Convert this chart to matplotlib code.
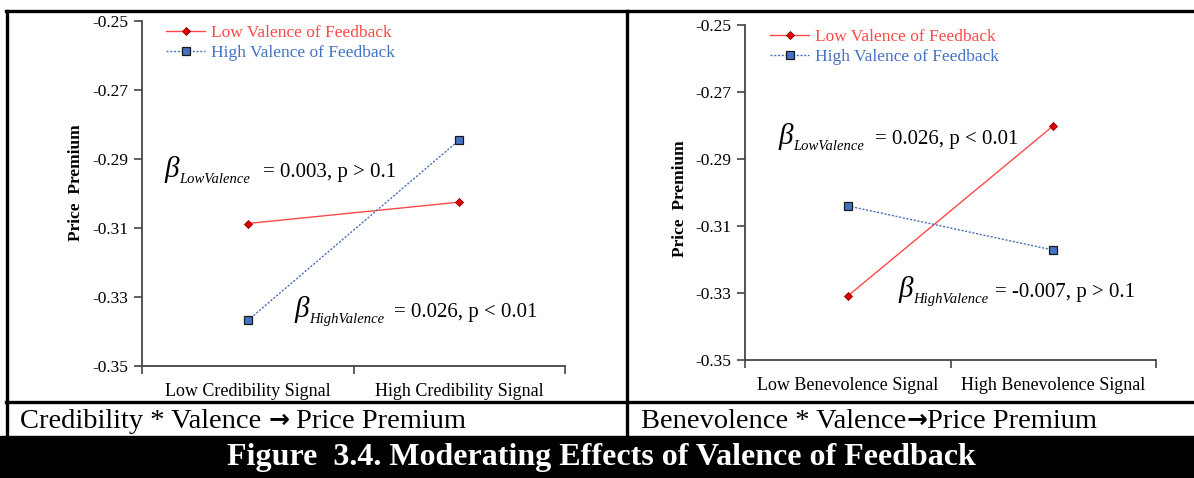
import matplotlib
matplotlib.use('Agg')
import matplotlib.pyplot as plt
from matplotlib.lines import Line2D
from matplotlib.patches import Rectangle

W, H = 1194, 478

# data
y_ticks = [-0.35, -0.33, -0.31, -0.29, -0.27, -0.25]
left_categories = ['Low Credibility Signal', 'High Credibility Signal']
left_low_valence = [-0.3087, -0.3025]
left_high_valence = [-0.3368, -0.2845]
right_categories = ['Low Benevolence Signal', 'High Benevolence Signal']
right_low_valence = [-0.3309, -0.2801]
right_high_valence = [-0.3040, -0.3172]
series_names = ['Low Valence of Feedback', 'High Valence of Feedback']
left_notes = [('LowValence', '= 0.003, p > 0.1'), ('HighValence', '= 0.026, p < 0.01')]
right_notes = [('LowValence', '= 0.026, p < 0.01'), ('HighValence', '= -0.007, p > 0.1')]
left_caption = ('Credibility * Valence', 'Price Premium')
right_caption = ('Benevolence * Valence', 'Price Premium')
figure_title = 'Figure  3.4. Moderating Effects of Valence of Feedback'

SERIF = ['Liberation Serif', 'DejaVu Serif']
RED_LINE = '#ff4848'
RED_MARK = '#e00000'
BLUE_LINE = '#4a6fb5'
BLUE_MARK = '#4472c4'

plt.rcParams['font.family'] = SERIF


def fx(px):
    return px / W


def fy(py):
    return 1 - py / H


def make_panel(fig, left, right, top, bottom, cats, low, high, legend_at, ylabel_at):
    ax = fig.add_axes([fx(left), fy(bottom), fx(right - left), (bottom - top) / H])
    xs = [0.5, 1.5]
    ax.plot(xs, low, color=RED_LINE, lw=1.0, marker='D', ms=4.5,
            mfc=RED_MARK, mec='#8b0000', mew=0.6, label=series_names[0])
    ax.plot(xs, high, color=BLUE_LINE, lw=1.0, ls=(0, (1.5, 1.2)), marker='s', ms=6,
            mfc=BLUE_MARK, mec='#1a1a1a', mew=0.9, label=series_names[1])
    ax.set_xlim(0, 2)
    ax.set_ylim(-0.35, -0.25)
    ax.set_yticks(y_ticks)
    ax.set_yticklabels([f'{t:.2f}' for t in y_ticks])
    ax.set_xticks([0, 1, 2])
    ax.set_xticklabels([])
    ax.set_xticks(xs, minor=True)
    ax.set_xticklabels(cats, minor=True)
    ax.tick_params(axis='x', which='major', length=6, width=1.2, color='#444444', direction='out')
    ax.tick_params(axis='x', which='minor', length=0, pad=12, labelsize=13)
    ax.tick_params(axis='y', length=6, width=1.2, color='#444444', direction='out',
                   labelsize=12.5, pad=4)
    for side in ['top', 'right']:
        ax.spines[side].set_visible(False)
    for side in ['left', 'bottom']:
        ax.spines[side].set_color('#444444')
        ax.spines[side].set_linewidth(1.3)
    ax.set_ylabel('Price  Premium', fontweight='bold', fontsize=12.5)
    ax.yaxis.set_label_coords(fx(ylabel_at[0]), fy(ylabel_at[1]), transform=fig.transFigure)
    leg = ax.legend(loc='upper left', bbox_to_anchor=(fx(legend_at[0]), fy(legend_at[1])),
                    bbox_transform=fig.transFigure, frameon=False, borderpad=0,
                    borderaxespad=0, handlelength=2.25, handletextpad=0.35,
                    labelspacing=0.2, fontsize=12.5, labelcolor='linecolor')
    leg.get_texts()[1].set_color(BLUE_MARK)
    return ax


def beta_note(fig, x, base, sub, rest, sub_dx, rest_dx):
    fig.text(fx(x), fy(base), '\u03b2', fontsize=21, style='italic', va='baseline', ha='left')
    fig.text(fx(x + sub_dx), fy(base + 6), sub, fontsize=10.5, style='italic',
             va='baseline', ha='left')
    fig.text(fx(x + rest_dx), fy(base), rest, fontsize=15, va='baseline', ha='left')


def caption(fig, parts, x_left, base, gap):
    # lay the pieces out one after another, measuring each drawn piece
    renderer = fig.canvas.get_renderer()
    t1 = fig.text(fx(x_left), fy(base), parts[0], fontsize=20.5, va='baseline', ha='left')
    x = t1.get_window_extent(renderer).x1 + gap
    t2 = fig.text(x / W, fy(base - 1), '\u2192', fontsize=18, fontweight='bold',
                  family=['DejaVu Sans'], va='baseline', ha='left')
    x = t2.get_window_extent(renderer).x1 + gap
    fig.text(x / W, fy(base), parts[1], fontsize=20.5, va='baseline', ha='left')


fig = plt.figure(figsize=(W / 100, H / 100), dpi=100)

make_panel(fig, 142, 565, 21, 366, left_categories, left_low_valence,
           left_high_valence, (166, 25), (84, 183))
make_panel(fig, 745, 1156, 25, 360, right_categories, right_low_valence,
           right_high_valence, (770, 29), (688, 199))

beta_note(fig, 164, 177, left_notes[0][0], left_notes[0][1], 15, 99)
beta_note(fig, 294, 317, left_notes[1][0], left_notes[1][1], 15, 100)
beta_note(fig, 778, 144, right_notes[0][0], right_notes[0][1], 15, 97)
beta_note(fig, 898, 297, right_notes[1][0], right_notes[1][1], 15, 97)

# table borders
border = dict(color='black', lw=2.4, transform=fig.transFigure)
fig.add_artist(Line2D([fx(5.5), fx(W)], [fy(11), fy(11)], **border))
fig.add_artist(Line2D([fx(6.7), fx(6.7)], [fy(11), fy(437)], **border))
fig.add_artist(Line2D([fx(626.5), fx(626.5)], [fy(11), fy(437)], **border))
fig.add_artist(Line2D([fx(5.5), fx(W)], [fy(402), fy(402)], **border))
fig.add_artist(Rectangle((0, 0), 1, fy(436), color='black', transform=fig.transFigure))

caption(fig, left_caption, 20, 428, 7)
caption(fig, right_caption, 641, 428, 0)
fig.text(fx(601), fy(458), figure_title, fontsize=23, fontweight='bold', color='white',
         va='center', ha='center')

fig.savefig('out.png', dpi=100)
